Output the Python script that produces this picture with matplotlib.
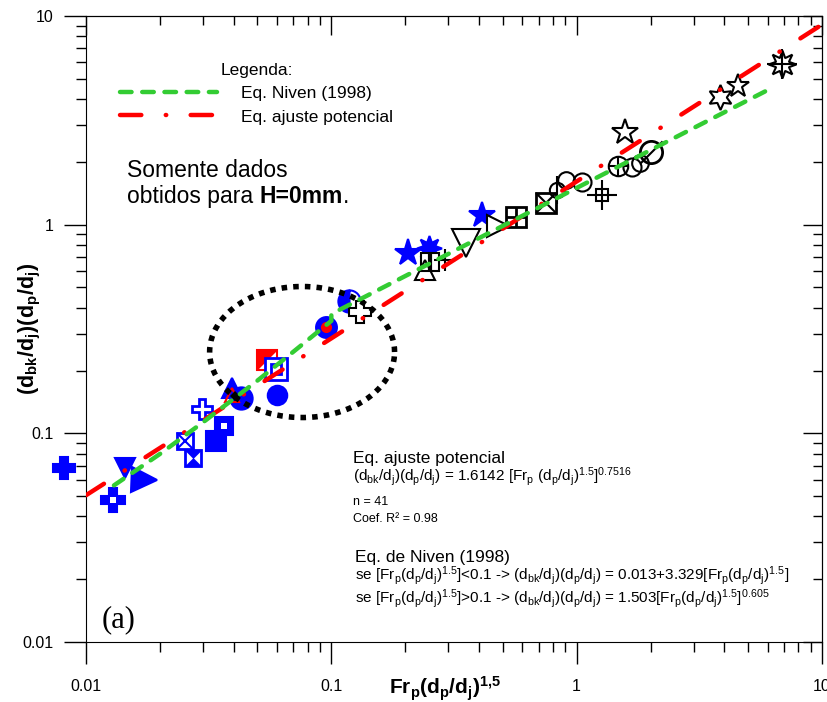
import numpy as np
import matplotlib
matplotlib.use('Agg')
import matplotlib.pyplot as plt

plt.rcParams['font.family'] = ['Liberation Sans', 'DejaVu Sans']
plt.rcParams['mathtext.fontset'] = 'custom'
plt.rcParams['mathtext.rm'] = 'Liberation Sans'
plt.rcParams['mathtext.it'] = 'Liberation Sans:italic'
plt.rcParams['mathtext.bf'] = 'Liberation Sans:bold'

frp = [0.0081, 0.0129, 0.0144, 0.0172, 0.0253, 0.0273, 0.0297, 0.0339, 0.0365, 0.0394,
       0.0428, 0.0394, 0.0405, 0.0547, 0.0595, 0.0601, 0.0951, 0.118, 0.131, 0.2055,
       0.250, 0.2525, 0.241, 0.290, 0.354, 0.411, 0.478, 0.566, 0.750, 0.832,
       0.905, 1.052, 1.271, 1.575, 1.475, 1.68, 1.81, 2.01, 3.84, 4.55, 6.88]
dbk = [0.068, 0.048, 0.068, 0.060, 0.0919, 0.0762, 0.1307, 0.0919, 0.1084, 0.1648,
       0.1476, 0.1526, 0.151, 0.2245, 0.2033, 0.1526, 0.323, 0.4305, 0.381, 0.731,
       0.773, 0.662, 0.606, 0.677, 0.816, 1.112, 0.985, 1.087, 1.270, 1.466,
       1.637, 1.60, 1.387, 2.78, 1.91, 1.89, 1.97, 2.23, 4.09, 4.61, 5.89]

# curves
niven_x = [0.013, 0.02, 0.03, 0.05, 0.07, 0.1, 0.1, 1.0, 6.2]
niven_y = [0.0563, 0.0796, 0.113, 0.179, 0.246, 0.346, 0.373, 1.50, 4.50]
ajuste_x = [0.01, 10.0]
ajuste_y = [0.0505, 9.1]

tick_vals = [0.01, 0.1, 1, 10]
tick_labels = ['0.01', '0.1', '1', '10']

B, R, K, W = '#0000ff', '#ff0000', 'black', 'white'
HOURGLASS = [(-1, 1), (1, 1), (-1, -1), (1, -1), (-1, 1)]
HALF = [(-1, -1), (-1, 1), (1, 1), (-1, -1)]
SLASH = [(-1, -1), (1, 1)]
STAR8 = (8, 1, 0)
STAR6 = (6, 1, 0)


def mk(marker, ms, fc, ec, mew=1.5, **kw):
    return dict(marker=marker, markersize=ms, markerfacecolor=fc,
                markeredgecolor=ec, markeredgewidth=mew, **kw)


point_style = [
    [mk('P', 16, B, B)],
    [mk('P', 17, B, B), mk('s', 5, W, W, 0)],
    [mk('v', 15, B, B)],
    [mk('>', 18, B, B)],
    [mk('s', 11, W, B, 2), mk('x', 11, 'none', B, 1.5)],
    [mk('s', 12, W, B, 2), mk(HOURGLASS, 12, B, B, 0.5)],
    [mk('P', 15, W, B, 2)],
    [mk('s', 15, B, B)],
    [mk('s', 13, B, B), mk('s', 5, W, W, 0)],
    [mk('^', 15, B, B)],
    [mk('o', 16, B, B)],
    [mk('^', 10, 'none', R, 1.5)],
    [mk('D', 5, K, K, 0)],
    [mk('s', 15, W, R, 1.5), mk(HALF, 15, R, R, 0)],
    [mk('s', 16, W, B, 2), mk('s', 7, 'none', B, 2)],
    [mk('o', 14, B, B)],
    [mk('o', 15, B, B), mk('o', 8, R, R, 0)],
    [mk('o', 16, B, B, fillstyle='left', markerfacecoloralt=W)],
    [mk('P', 16, W, K)],
    [mk('*', 20, B, B)],
    [mk(STAR8, 18, B, B)],
    [mk('s', 13, W, K), mk('|', 13, 'none', K, 3)],
    [mk('^', 14, 'none', K)],
    [mk('+', 16, 'none', K)],
    [mk('v', 20, 'none', K)],
    [mk('*', 19, B, B)],
    [mk('>', 16, W, K)],
    [mk('s', 15, W, K, 2), mk('+', 15, 'none', K, 2)],
    [mk('s', 15, W, K, 2), mk('x', 15, 'none', K, 1.5)],
    [mk('o', 11, 'none', K), mk('|', 20, 'none', K)],
    [mk('o', 12, 'none', K)],
    [mk('o', 13, 'none', K)],
    [mk('s', 9, 'none', K), mk('+', 22, 'none', K)],
    [mk('*', 19, W, K)],
    [mk('o', 14, 'none', K), mk('+', 14, 'none', K)],
    [mk('o', 13, 'none', K)],
    [mk('o', 12, 'none', K)],
    [mk('o', 16, 'none', K, 2), mk(SLASH, 16, 'none', K)],
    [mk(STAR6, 18, W, K)],
    [mk('*', 17, W, K)],
    [mk(STAR8, 20, W, K), mk('+', 22, 'none', K)],
]

fig = plt.figure(figsize=(8.27, 7.02), dpi=100)
ax = fig.add_axes([86 / 827, 60 / 702, 736 / 827, 626 / 702])
ax.set_xscale('log')
ax.set_yscale('log')
ax.set_xlim(0.01, 10)
ax.set_ylim(0.01, 10)

for x, y, layers in zip(frp, dbk, point_style):
    for m in layers:
        ax.plot([x], [y], linestyle='none', zorder=2, clip_on=False, **m)

ax.plot(ajuste_x, ajuste_y, color='#ff0000', lw=3.2, dashes=(4.8, 5.5, 0.1, 5.5),
        dash_capstyle='round', zorder=3, label='Eq. ajuste potencial')
ax.plot(niven_x, niven_y, color='#33cc33', lw=3.2, dashes=(2.6, 2.4),
        dash_capstyle='round', zorder=4, label='Eq. Niven (1998)')

# dotted ellipse around the small-Fr points
ell_cx, ell_cy, ell_a, ell_b = 0.0760, 0.2453, 0.377, 0.314
t = np.linspace(0, 2 * np.pi, 200)
ax.plot(10 ** (np.log10(ell_cx) + ell_a * np.cos(t)),
        10 ** (np.log10(ell_cy) + ell_b * np.sin(t)),
        color='black', lw=4, dashes=(1, 1.1), dash_capstyle='butt', zorder=3)

h, l = ax.get_legend_handles_labels()
ax.legend(h[::-1], l[::-1], title='Legenda:', loc='upper left', bbox_to_anchor=(0.046, 0.925),
          frameon=False, fontsize=12.5, title_fontsize=12.5, borderpad=0, borderaxespad=0,
          handlelength=5.6, handletextpad=1.4, labelspacing=0.47)

ax.text(0.0557, 0.7428, 'Somente dados', transform=ax.transAxes, fontsize=16.5)
t1 = ax.text(0.0557, 0.7013, 'obtidos para ', transform=ax.transAxes, fontsize=16.5)
t2 = ax.annotate('H=0mm', xy=(1, 0), xycoords=t1, va='bottom', fontsize=16.5,
                 fontweight='bold')
ax.annotate('.', xy=(1, 0), xycoords=t2, va='bottom', fontsize=16.5)

tk = dict(transform=ax.transAxes, fontsize=9)
tf = dict(transform=ax.transAxes, fontsize=11)
ax.text(0.3628, 0.2859, 'Eq. ajuste potencial', transform=ax.transAxes, fontsize=12.5)
ax.text(0.3628, 0.2572, r'(d$_{\rm bk}$/d$_{\rm j}$)(d$_{\rm p}$/d$_{\rm j}$) = 1.6142 '
        r'[Fr$_{\rm p}$ (d$_{\rm p}$/d$_{\rm j}$)$^{1.5}$]$^{0.7516}$', **tf)
ax.text(0.3628, 0.2188, 'n = 41', **tk)
ax.text(0.3628, 0.1917, 'Coef. R² = 0.98', **tk)
ax.text(0.3655, 0.1278, 'Eq. de Niven (1998)', transform=ax.transAxes, fontsize=12.5)
ax.text(0.3655, 0.0990, r'se [Fr$_{\rm p}$(d$_{\rm p}$/d$_{\rm j}$)$^{1.5}$]<0.1 -> '
        r'(d$_{\rm bk}$/d$_{\rm j}$)(d$_{\rm p}$/d$_{\rm j}$) = 0.013+3.329'
        r'[Fr$_{\rm p}$(d$_{\rm p}$/d$_{\rm j}$)$^{1.5}$]', **tf)
ax.text(0.3655, 0.0623, r'se [Fr$_{\rm p}$(d$_{\rm p}$/d$_{\rm j}$)$^{1.5}$]>0.1 -> '
        r'(d$_{\rm bk}$/d$_{\rm j}$)(d$_{\rm p}$/d$_{\rm j}$) = 1.503'
        r'[Fr$_{\rm p}$(d$_{\rm p}$/d$_{\rm j}$)$^{1.5}$]$^{0.605}$', **tf)
ax.text(0.0217, 0.024, '(a)', transform=ax.transAxes, fontsize=22,
        family=['Liberation Serif', 'DejaVu Serif'])

ax.set_xticks(tick_vals, tick_labels)
ax.set_yticks(tick_vals, tick_labels)
ax.tick_params(which='both', direction='out', labelsize=11.5, width=1)
ax.tick_params(which='major', length=15.5)
ax.tick_params(which='minor', length=7.5)
ax.tick_params(axis='x', pad=11)
ax.tick_params(axis='y', pad=8)

top = ax.secondary_xaxis('top')
top.tick_params(which='both', direction='in', labeltop=False, width=1)
top.tick_params(which='major', length=13.5)
top.tick_params(which='minor', length=6.5)
right = ax.secondary_yaxis('right')
right.tick_params(which='both', direction='in', labelright=False, width=1)
right.tick_params(which='major', length=13.5)
right.tick_params(which='minor', length=6.5)

ax.set_xlabel(r'$\mathbf{Fr_p(d_p/d_j)^{1{,}5}}$', fontsize=15)
ax.xaxis.set_label_coords(0.488, -0.052)
ax.set_ylabel(r'$\mathbf{(d_{bk}/d_j)(d_p/d_j)}$', fontsize=15.5)
ax.yaxis.set_label_coords(-0.058, 0.5)

fig.savefig('out.png', dpi=100)
